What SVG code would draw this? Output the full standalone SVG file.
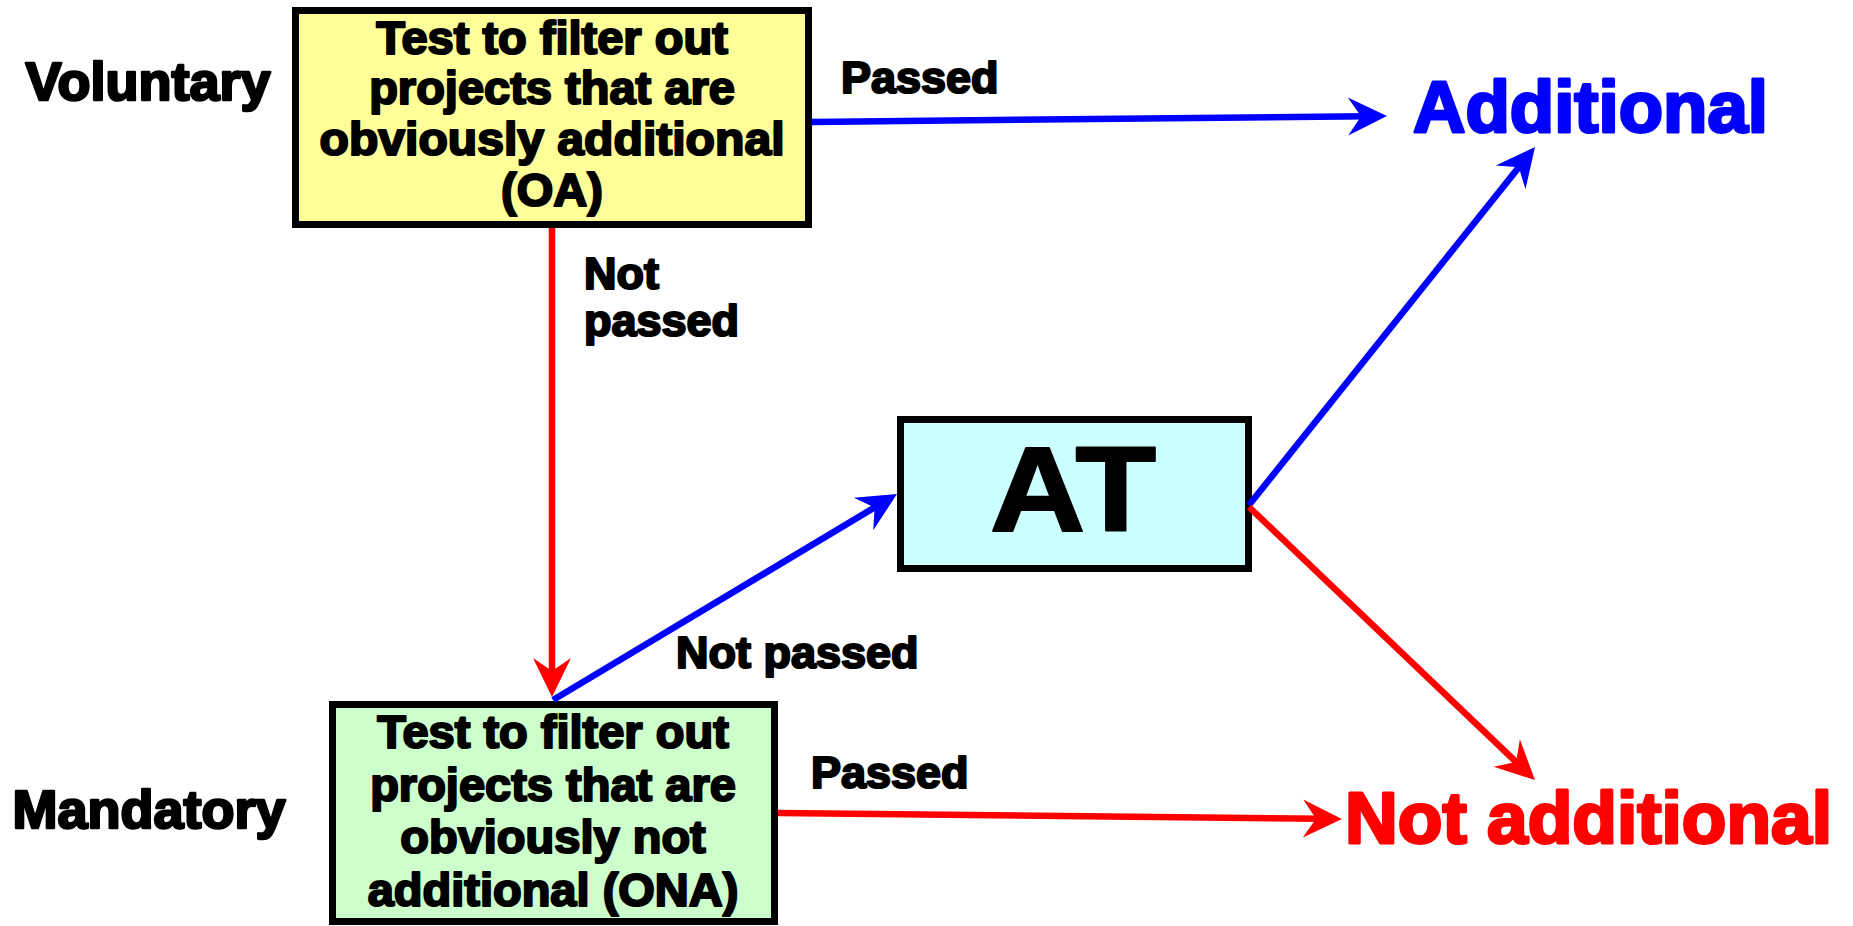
<svg xmlns="http://www.w3.org/2000/svg" width="1853" height="926" viewBox="0 0 1853 926">
  <style>
    text { font-family: "Liberation Sans", Arial, sans-serif; font-weight: bold; stroke-linejoin: round; }
    .box { stroke: #000; stroke-width: 7; }
    .blk { fill: #000; stroke: #000; stroke-width: 2.2; }
    .lbl { font-size: 54px; text-anchor: middle; stroke-width: 2.6; }
    .inbox { font-size: 47px; text-anchor: middle; }
    .small { font-size: 45px; }
    .big { font-size: 72px; stroke-width: 3; }
    .blue { fill: #0000FF; stroke: #0000FF; }
    .red { fill: #FF0000; stroke: #FF0000; }
    .conn { fill: none; stroke-width: 6.5; }
    .cb { stroke: #0000FF; marker-end: url(#headBlue); }
    .cr { stroke: #FF0000; marker-end: url(#headRed); }
  </style>
  <defs>
    <!-- barbed arrowhead, tip 20px beyond the line end -->
    <marker id="headBlue" markerUnits="userSpaceOnUse" viewBox="-40 -20 41 40" markerWidth="41" markerHeight="40" refX="-20" refY="0" orient="auto">
      <path d="M0,0 L-39,-19 L-26,0 L-39,19 Z" fill="#0000FF"/>
    </marker>
    <marker id="headRed" markerUnits="userSpaceOnUse" viewBox="-40 -20 41 40" markerWidth="41" markerHeight="40" refX="-20" refY="0" orient="auto">
      <path d="M0,0 L-39,-19 L-26,0 L-39,19 Z" fill="#FF0000"/>
    </marker>
  </defs>
  <rect width="1853" height="926" fill="#fff"/>

  <g id="label-voluntary">
    <text class="lbl blk" x="148" y="100">Voluntary</text>
  </g>
  <g id="label-mandatory">
    <text class="lbl blk" x="149" y="828">Mandatory</text>
  </g>

  <g id="node-oa">
    <rect class="box" x="295.5" y="10.5" width="513" height="214" fill="#FFFF99"/>
    <text class="inbox blk" x="552" y="54">Test to filter out</text>
    <text class="inbox blk" x="552" y="104">projects that are</text>
    <text class="inbox blk" x="552" y="155" textLength="465" lengthAdjust="spacingAndGlyphs">obviously additional</text>
    <text class="inbox blk" x="552" y="206">(OA)</text>
  </g>

  <g id="node-at">
    <rect class="box" x="900.5" y="419.5" width="348" height="149" fill="#CCFFFF"/>
    <text class="blk" x="1073" y="531" font-size="120" text-anchor="middle" stroke-width="4" textLength="166" lengthAdjust="spacingAndGlyphs">AT</text>
  </g>

  <g id="node-ona">
    <rect class="box" x="332.5" y="704.5" width="442" height="217" fill="#CCFFCC"/>
    <text class="inbox blk" x="553" y="748">Test to filter out</text>
    <text class="inbox blk" x="553" y="801">projects that are</text>
    <text class="inbox blk" x="553" y="853">obviously not</text>
    <text class="inbox blk" x="553" y="906">additional (ONA)</text>
  </g>

  <g id="node-additional">
    <text class="big blue" x="1413" y="132" textLength="355" lengthAdjust="spacingAndGlyphs">Additional</text>
  </g>
  <g id="node-not-additional">
    <text class="big red" x="1345" y="843" textLength="487" lengthAdjust="spacingAndGlyphs">Not additional</text>
  </g>

  <g id="connectors">
    <line class="conn cb" x1="812" y1="122" x2="1367" y2="116.2"/>
    <line class="conn cr" x1="552" y1="228" x2="552" y2="677"/>
    <line class="conn cb" x1="553" y1="700" x2="879.8" y2="504.3"/>
    <line class="conn cb" x1="1249" y1="505" x2="1522.5" y2="162.6"/>
    <line class="conn cr" x1="1249" y1="507" x2="1520.5" y2="766.2"/>
    <line class="conn cr" x1="778" y1="813" x2="1322" y2="818.8"/>
    <text class="small blk" x="841" y="93">Passed</text>
    <text class="small blk" x="584" y="289">Not</text>
    <text class="small blk" x="584" y="336">passed</text>
    <text class="small blk" x="676" y="668">Not passed</text>
    <text class="small blk" x="811" y="788">Passed</text>
  </g>
</svg>
